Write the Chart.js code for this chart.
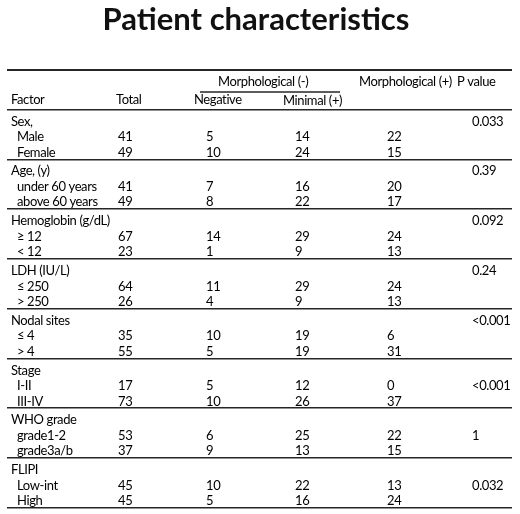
<!DOCTYPE html>
<html>
<head>
<meta charset="utf-8">
<script src="https://cdn.jsdelivr.net/npm/chart.js@4.4.1/dist/chart.umd.min.js"></script>
<style>
  html, body { margin: 0; padding: 0; background: #fff; }
  #wrap { width: 520px; height: 514px; position: relative; }
</style>
</head>
<body>
<div id="wrap"><canvas id="chart"></canvas></div>
<script>
// table content
const title = "Patient characteristics";
const headers = ["Factor", "Total", "Negative", "Minimal (+)", "Morphological (+)", "P value"];
const spanHeader = "Morphological (-)";
const factors = ["Sex,", "Age, (y)", "Hemoglobin (g/dL)", "LDH (IU/L)",
                 "Nodal sites", "Stage", "WHO grade", "FLIPI"];
const subgroups = [
  ["Male", "Female"], ["under 60 years", "above 60 years"], ["\u2265 12", "< 12"],
  ["\u2264 250", "> 250"], ["\u2264 4", "> 4"], ["I-II", "III-IV"],
  ["grade1-2", "grade3a/b"], ["Low-int", "High"]
];
const totals   = [[41, 49], [41, 49], [67, 23], [64, 26], [35, 55], [17, 73], [53, 37], [45, 45]];
const negative = [[5, 10], [7, 8], [14, 1], [11, 4], [10, 5], [5, 10], [6, 9], [10, 5]];
const minimal  = [[14, 24], [16, 22], [29, 9], [29, 9], [19, 19], [12, 26], [25, 13], [22, 16]];
const positive = [[22, 15], [20, 17], [24, 13], [24, 13], [6, 31], [0, 37], [22, 15], [13, 24]];
const pValues  = ["0.033", "0.39", "0.092", "0.24", "<0.001", "<0.001", "1", "0.032"];
const pRow     = [0, 0, 0, 0, 0, 1, 1, 1];   // 0 = factor line, 1 = first subgroup line

// layout (scale units = pixels of the 520x514 page)
const colX = { factor: 11, sub: 17, total: 118, negative: 206, minimal: 295, positive: 387, p: 472 };
const headX = [11, 116, 194, 283, 359, 457];
const headY = [100, 100, 100, 101, 82, 82];
const spanX = 218, spanY = 82, spanLineY = 92, spanLine = [200, 340];
const topRule = 70, headRule = 109.5, groupStep = 49.8;
const rowOffset = [12, 27.5, 43];
const ruleColor = "#262626";
const textFont = "13px Lato";

function rowY(g, r) {
  return headRule + g * groupStep + rowOffset[r];
}

function cells(x, values) {
  const out = [];
  values.forEach((pair, g) => {
    pair.forEach((v, r) => out.push({ x: x, y: rowY(g, r + 1), text: String(v) }));
  });
  return out;
}

const rules = [topRule, headRule].concat(factors.map((f, g) => headRule + (g + 1) * groupStep));

const datasets = [
  { data: headers.map((h, i) => ({ x: headX[i], y: headY[i], text: h })) },
  { data: [{ x: spanX, y: spanY, text: spanHeader }] },
  { data: factors.map((f, g) => ({ x: colX.factor, y: rowY(g, 0), text: f })) },
  { data: cells(colX.sub, subgroups) },
  { data: cells(colX.total, totals) },
  { data: cells(colX.negative, negative) },
  { data: cells(colX.minimal, minimal) },
  { data: cells(colX.positive, positive) },
  { data: pValues.map((p, g) => ({ x: colX.p, y: rowY(g, pRow[g]), text: p })) }
].map(ds => Object.assign(ds, { pointRadius: 0, showLine: false }));

const cellText = {
  id: "cellText",
  afterDatasetsDraw(chart) {
    const ctx = chart.ctx;
    const xs = chart.scales.x, ys = chart.scales.y;
    ctx.save();
    ctx.fillStyle = "#000";
    ctx.textBaseline = "middle";
    ctx.textAlign = "left";
    ctx.font = textFont;
    ctx.letterSpacing = "-0.4px";
    chart.data.datasets.forEach((ds, i) => {
      chart.getDatasetMeta(i).data.forEach((pt, j) => {
        ctx.fillText(ds.data[j].text, pt.x, pt.y);
      });
    });
    // line under the spanning header
    ctx.strokeStyle = ruleColor;
    ctx.lineWidth = 1.5;
    ctx.beginPath();
    ctx.moveTo(xs.getPixelForValue(spanLine[0]), ys.getPixelForValue(spanLineY));
    ctx.lineTo(xs.getPixelForValue(spanLine[1]), ys.getPixelForValue(spanLineY));
    ctx.stroke();
    // title
    ctx.letterSpacing = "0px";
    ctx.fillStyle = "#111";
    ctx.font = "bold 31px Lato";
    ctx.textAlign = "center";
    ctx.fillText(title, xs.getPixelForValue(256), ys.getPixelForValue(20));
    ctx.restore();
  }
};

new Chart("chart", {
  type: "scatter",
  data: { datasets: datasets },
  options: {
    responsive: true,
    maintainAspectRatio: false,
    animation: false,
    events: [],
    layout: { padding: { left: 7, right: 8, top: 0, bottom: 0 } },
    plugins: { legend: { display: false }, tooltip: { enabled: false } },
    scales: {
      x: { type: "linear", min: 7, max: 512, display: false },
      y: {
        type: "linear", min: 0, max: 514, reverse: true,
        afterBuildTicks: scale => { scale.ticks = rules.map(v => ({ value: v })); },
        ticks: { display: false },
        border: { display: false },
        grid: { color: ruleColor, lineWidth: c => c.index === 0 ? 2 : 1.6, drawTicks: false }
      }
    }
  },
  plugins: [cellText]
});
</script>
</body>
</html>
